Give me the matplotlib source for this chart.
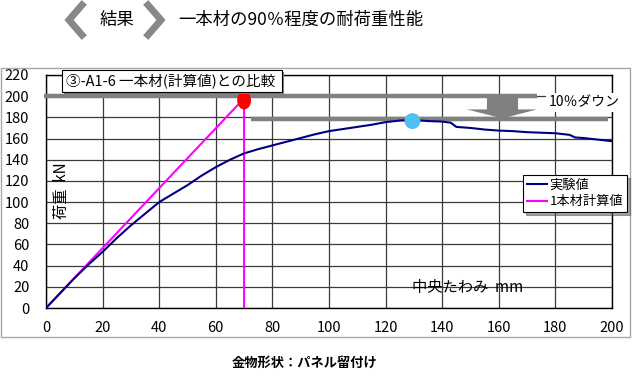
import matplotlib
matplotlib.use("Agg")
import matplotlib.pyplot as plt
from matplotlib.patches import Ellipse, Polygon, Rectangle
from matplotlib.lines import Line2D

plt.rcParams['font.family'] = ['Noto Sans CJK JP', 'DejaVu Sans']

# ---------------- data ----------------
exp_x = [0, 5, 10, 15, 20, 25, 30, 35, 40, 45, 50, 55, 60, 65, 70, 75, 80, 85, 90, 95,
         100, 105, 110, 115, 120, 125, 130, 135, 140, 143, 145, 150, 155, 160, 165, 170,
         175, 180, 185, 187, 190, 195, 200]
exp_y = [0, 14, 28, 41, 53, 66, 78, 89, 100, 108, 116, 125, 133, 140, 146, 150, 153.5, 157,
         160.5, 164, 167, 169, 171, 173, 175.5, 177, 177.5, 176.5, 176, 175, 171, 170, 168.5,
         167.5, 167, 166, 165.5, 165, 163.5, 161, 160.5, 159, 157.5]
calc_x = [0, 70, 70]
calc_y = [0, 198, 0]
calc_peak = (70, 196)
exp_peak = (129.5, 176.5)
level_100 = 200
level_90 = 178
x_ticks = list(range(0, 201, 20))
y_ticks = list(range(0, 221, 20))

W, H = 640, 378
fig = plt.figure(figsize=(6.4, 3.78), dpi=100)

def fx(px):
    return px / W

def fy(py):
    return 1 - py / H

# outer chart frame
fig.patches.append(Rectangle((fx(1), fy(337)), fx(630) - fx(1), fy(68) - fy(337),
                             transform=fig.transFigure, fill=False,
                             edgecolor='#A8A8A8', lw=1.0, zorder=0))

ax = fig.add_axes([fx(46), fy(308), fx(612) - fx(46), fy(75) - fy(308)])
ax.set_xlim(0, 200)
ax.set_ylim(0, 220)
ax.set_xticks(x_ticks)
ax.set_yticks(y_ticks)
ax.tick_params(length=0, labelsize=10.5, pad=9, colors='black')
ax.tick_params(axis='y', pad=12)
ax.grid(True, color='#3a3a3a', lw=0.9)
ax.set_axisbelow(True)
for s in ax.spines.values():
    s.set_color('black')
    s.set_linewidth(1.0)

# gray level lines
ax.plot([-0.7, 173.5], [level_100, level_100], color='#808080', lw=3.2,
        solid_capstyle='butt', clip_on=False, zorder=3)
ax.plot([72.4, 198.6], [level_90, level_90], color='#808080', lw=3.2,
        solid_capstyle='butt', clip_on=False, zorder=3)

# down arrow
arrow = Polygon([[155.8, 200], [166.8, 200], [166.8, 187.5], [173.5, 187.5],
                 [161.3, 179], [148.7, 187.5], [155.8, 187.5]],
                closed=True, facecolor='#808080', edgecolor='none', zorder=3)
ax.add_patch(arrow)
ax.text(177.5, 194, '10％ダウン', fontsize=10, va='center', ha='left', zorder=5,
        clip_on=False,
        bbox=dict(facecolor='white', edgecolor='none', pad=2))

# curves
ax.plot(calc_x, calc_y, color='#FF00FF', lw=1.5, zorder=4)
ax.plot(exp_x, exp_y, color='#000080', lw=1.5, zorder=4)

# markers
ax.add_patch(Ellipse(calc_peak, width=4.9, height=17, facecolor='#FF0000',
                     edgecolor='none', zorder=6, clip_on=False))
ax.add_patch(Ellipse(exp_peak, width=5.6, height=15, facecolor='#50C0F0',
                     edgecolor='none', zorder=6))

# x label inside
ax.text(129.3, 19, '中央たわみ  mm', fontsize=11, va='center', ha='left', zorder=5)

# legend
handles = [Line2D([0], [0], color='#000080', lw=1.5),
           Line2D([0], [0], color='#FF00FF', lw=1.5)]
leg = fig.legend(handles, ['実験値', '1本材計算値'], loc='upper left',
                 bbox_to_anchor=(fx(523), fy(175)), bbox_transform=fig.transFigure,
                 fontsize=9.5, frameon=True, fancybox=False, shadow=True,
                 handlelength=1.5, handletextpad=0.2, borderpad=0.3,
                 labelspacing=0.25, borderaxespad=0)
leg.get_frame().set_edgecolor('black')
leg.get_frame().set_linewidth(0.8)

# chart title box with shadow
fig.patches.append(Rectangle((fx(64), fy(94)), fx(284) - fx(64), fy(72) - fy(94),
                             transform=fig.transFigure, facecolor='#808080',
                             edgecolor='none', zorder=7))
fig.patches.append(Rectangle((fx(62), fy(92)), fx(282) - fx(62), fy(70) - fy(92),
                             transform=fig.transFigure, facecolor='white',
                             edgecolor='black', lw=0.8, zorder=8))
fig.text(fx(66), fy(81), '③-A1-6 一本材(計算値)との比較', fontsize=10.5,
         va='center', ha='left', color='black', zorder=9)

# y label
fig.text(fx(61), fy(191), '荷重  kN', fontsize=11, rotation=90, va='center', ha='center')

# header
fig.lines.append(Line2D([fx(82), fx(69), fx(82)], [fy(5), fy(20), fy(35)],
                        transform=fig.transFigure, color='#888888', lw=5,
                        solid_joinstyle='miter'))
fig.lines.append(Line2D([fx(148), fx(161), fx(148)], [fy(5), fy(20), fy(35)],
                        transform=fig.transFigure, color='#888888', lw=5,
                        solid_joinstyle='miter'))
fig.text(fx(100), fy(20), '結果', fontsize=12.5, va='center', ha='left')
fig.text(fx(178), fy(20), '一本材の90％程度の耐荷重性能', fontsize=12.5, va='center', ha='left')

# footer
fig.text(fx(232), fy(363), '金物形状：パネル留付け', fontsize=9.5, va='center', ha='left',
         weight='bold')

fig.savefig('out.png', dpi=100)
